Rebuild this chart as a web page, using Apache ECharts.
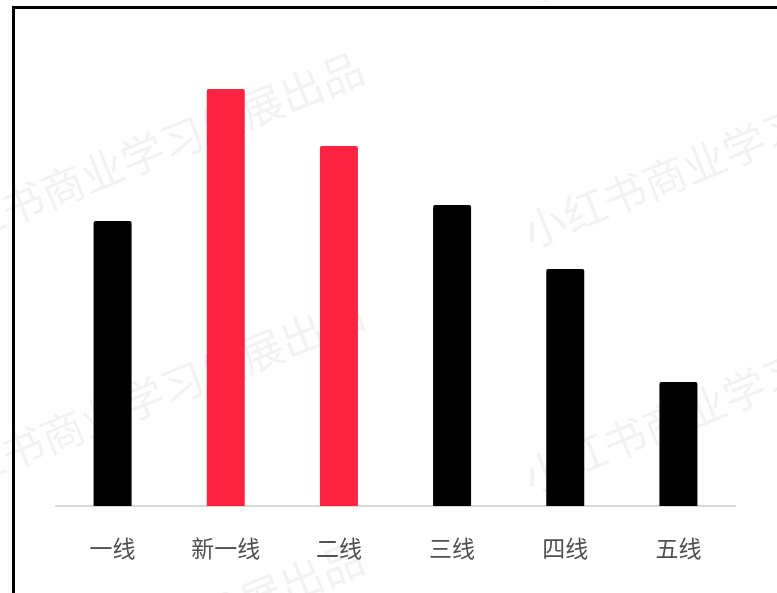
<!DOCTYPE html>
<html>
<head>
<meta charset="utf-8">
<script src="https://cdn.jsdelivr.net/npm/echarts@6/dist/echarts.min.js"></script>
<style>
html,body{margin:0;padding:0;background:#fff;}
#chart{width:777px;height:593px;}
</style>
</head>
<body>
<div id="chart"></div>
<script>
const categories = ['一线', '新一线', '二线', '三线', '四线', '五线'];
const values = [28.5, 41.7, 36.0, 30.1, 23.7, 12.4];
const highlighted = [false, true, true, false, false, false];

const RED = '#fe2340';
const BLACK = '#000000';

const chart = echarts.init(document.getElementById('chart'), null, {renderer: 'canvas'});

const wmText = '小红书商业学习发展出品';
const wmStarts = [[-77, 243], [525, 234], [-77, 488], [525, 479], [-77, 733], [525, 724], [-77, -2], [525, -11]];
const ang = 22 * Math.PI / 180;
const watermarks = wmStarts.map(p => ({
  type: 'text',
  x: p[0], y: p[1],
  rotation: ang,
  z: 0,
  silent: true,
  style: {
    text: wmText,
    fill: 'rgba(0,0,0,0.05)',
    font: '43px "Noto Sans CJK SC"',
    textAlign: 'left',
    textVerticalAlign: 'middle'
  }
}));

chart.setOption({
  animation: false,
  backgroundColor: '#ffffff',
  grid: {left: 56, right: 42, top: 6, bottom: 87, containLabel: false},
  xAxis: {
    type: 'category',
    data: categories,
    axisLine: {show: true, lineStyle: {color: '#d9d9d9', width: 2}},
    axisTick: {show: false},
    axisLabel: {
      color: '#505050',
      fontSize: 23,
      fontFamily: '"Noto Sans CJK SC", sans-serif',
      margin: 31
    }
  },
  yAxis: {
    type: 'value',
    min: 0,
    max: 50,
    show: false,
    splitLine: {show: false}
  },
  graphic: watermarks.concat([{
    type: 'polyline',
    z: 10,
    silent: true,
    shape: {points: [[13.5, 700], [13.5, 7.5], [800, 7.5]]},
    style: {stroke: '#000', lineWidth: 3, fill: null}
  }]),
  series: [{
    type: 'bar',
    barWidth: 38,
    z: 2,
    data: values.map((v, i) => ({
      value: v,
      itemStyle: {color: highlighted[i] ? RED : BLACK, borderRadius: [2, 2, 0, 0]}
    }))
  }]
});
</script>
</body>
</html>
